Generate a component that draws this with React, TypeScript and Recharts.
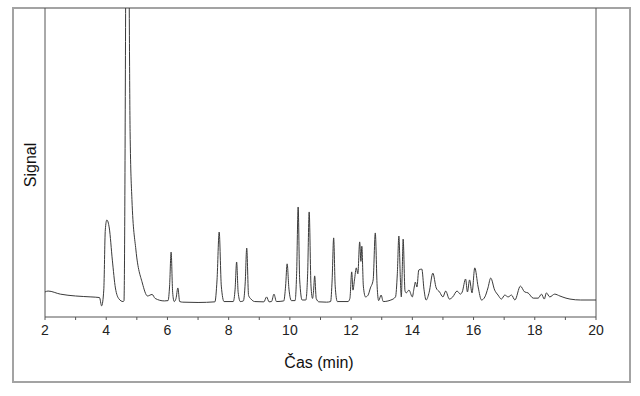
import React from 'react';
import { LineChart, Line, XAxis, YAxis, ReferenceLine } from 'recharts';

// [retention time (min), signal]
const solventRegion: [number, number][] = [
  [2.0, 8.1], [2.1, 8.4], [2.5, 7.4], [3.0, 6.8], [3.5, 6.5], [3.78, 6.3], [3.85, 3.6],
  [3.92, 8.7], [3.97, 28.2], [4.02, 31.4], [4.1, 28.8], [4.2, 18.4], [4.3, 9.4], [4.42, 5.8],
  [4.55, 5.0], [4.58, 5.2], [4.69, 200], [4.78, 60], [4.84, 38], [4.97, 21.7], [5.18, 11],
  [5.35, 6.8], [5.5, 7.3], [5.6, 6.0], [5.9, 5.2], [6.02, 5.3], [6.07, 10], [6.12, 21.0],
  [6.17, 8], [6.22, 5.0], [6.28, 6], [6.34, 9.4], [6.4, 5.0], [6.5, 4.8], [7.0, 4.7],
];

const midRegion: [number, number][] = [
  [7.55, 4.9], [7.62, 12], [7.69, 27.5], [7.76, 10], [7.85, 5.0], [8.15, 5.0], [8.21, 9],
  [8.26, 17.8], [8.31, 8], [8.38, 5.0], [8.48, 5.2], [8.54, 11], [8.59, 22.3], [8.65, 7],
  [8.73, 5.8], [8.85, 5.0], [9.15, 4.9], [9.24, 6.5], [9.32, 4.9], [9.4, 5.0], [9.48, 7.4],
  [9.56, 5.0], [9.8, 5.2], [9.86, 10], [9.91, 17.2], [9.97, 9], [10.05, 5.3], [10.17, 5.3],
  [10.22, 14], [10.27, 35.6], [10.32, 12], [10.4, 5.5], [10.52, 5.5], [10.58, 14], [10.63, 34],
  [10.69, 10], [10.74, 6], [10.77, 8], [10.81, 13.3], [10.86, 6], [10.95, 4.9], [11.2, 4.8],
  [11.33, 5.0], [11.38, 12], [11.43, 25.6], [11.48, 10], [11.55, 5.0], [11.9, 5.0],
];

const clusterRegion: [number, number][] = [
  [11.96, 6], [12.02, 14.6], [12.06, 8.7], [12.11, 12], [12.17, 15.9], [12.22, 14], [12.28, 24.3],
  [12.32, 18], [12.35, 22.9], [12.4, 10], [12.47, 6.5], [12.55, 7.0], [12.63, 9.4], [12.72, 12],
  [12.79, 27.2], [12.85, 10], [12.9, 5.3], [12.98, 7.1], [13.05, 5.0], [13.3, 5.5], [13.45, 6.5],
  [13.51, 14], [13.56, 26.2], [13.61, 12], [13.64, 6.5], [13.67, 15], [13.7, 25.2], [13.76, 8.5],
  [13.8, 7.8], [13.89, 8.7], [14.0, 6.5], [14.05, 9], [14.1, 11.3], [14.15, 9.7], [14.21, 15.2],
  [14.31, 15.5], [14.38, 9], [14.45, 5.5], [14.55, 8], [14.67, 14.2], [14.78, 9.4], [14.89, 8.1],
];

const lateRegion: [number, number][] = [
  [15.0, 6.5], [15.09, 8.4], [15.21, 5.8], [15.32, 6.5], [15.46, 8.4], [15.57, 7.4], [15.63, 8.1],
  [15.74, 12.3], [15.8, 8.1], [15.87, 12.0], [15.95, 7.8], [16.04, 15.9], [16.15, 9.7], [16.26, 5.5],
  [16.37, 6.5], [16.47, 9.4], [16.56, 12.6], [16.69, 8.7], [16.8, 7.1], [16.91, 5.8], [17.02, 7.1],
  [17.13, 6.5], [17.24, 7.1], [17.35, 5.5], [17.53, 10.0], [17.67, 8.1], [17.78, 7.8], [17.95, 6.1],
  [18.11, 6.1], [18.22, 7.4], [18.31, 5.8], [18.38, 7.8], [18.49, 6.5], [18.65, 7.4], [18.82, 6.8],
  [19.02, 6.1], [19.15, 5.8], [19.5, 5.5], [20.0, 5.5],
];

const xTicks = [2, 3, 4, 5, 6, 7, 8, 9, 10, 11, 12, 13, 14, 15, 16, 17, 18, 19, 20];
const xLabel = 'Čas (min)';
const yLabel = 'Signal';

const data = [...solventRegion, ...midRegion, ...clusterRegion, ...lateRegion].map(([t, s]) => ({ t, s }));

const font = '"Liberation Sans", Arial, sans-serif';

export default function App() {
  return (
    <div style={{ position: 'absolute', left: 0, top: 0, width: 640, height: 396, background: '#fff' }}>
      <div
        style={{
          position: 'absolute', left: 12, top: 7, width: 619, height: 376,
          border: '2px solid #a3a3a3', boxSizing: 'border-box',
        }}
      />
      <div style={{ position: 'absolute', left: 0, top: 0 }}>
        <LineChart width={640} height={396} data={data} margin={{ top: 8, right: 44, bottom: 49, left: 45 }}>
          <XAxis
            dataKey="t"
            type="number"
            domain={[2, 20]}
            ticks={xTicks}
            interval={0}
            tickFormatter={(v: number) => (v % 2 === 0 ? String(v) : '')}
            tickSize={3}
            tickMargin={5}
            height={30}
            stroke="#555"
            tick={{ fill: '#222', fontSize: 14, fontFamily: font }}
          />
          <YAxis hide domain={[0, 100]} allowDataOverflow />
          <ReferenceLine x={2} stroke="#555" strokeWidth={1} ifOverflow="visible" />
          <ReferenceLine x={20} stroke="#555" strokeWidth={1} ifOverflow="visible" />
          <Line
            type="monotone"
            dataKey="s"
            stroke="#3a3a3a"
            strokeWidth={1}
            dot={false}
            isAnimationActive={false}
          />
        </LineChart>
      </div>
      <div
        style={{
          position: 'absolute', left: 31, top: 165, transform: 'translate(-50%, -50%) rotate(-90deg)',
          fontFamily: font, fontSize: 16, color: '#111', whiteSpace: 'nowrap', lineHeight: 1,
        }}
      >
        {yLabel}
      </div>
      <div
        style={{
          position: 'absolute', left: 319, top: 363, transform: 'translate(-50%, -50%)',
          fontFamily: font, fontSize: 16, color: '#111', whiteSpace: 'nowrap', lineHeight: 1,
        }}
      >
        {xLabel}
      </div>
    </div>
  );
}
